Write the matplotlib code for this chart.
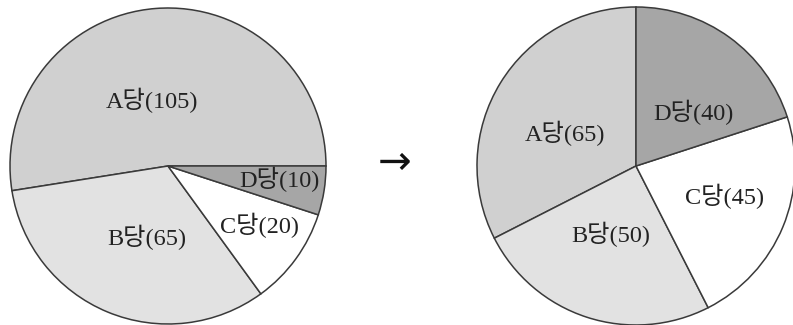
import matplotlib
matplotlib.use("Agg")
import matplotlib.pyplot as plt
import numpy as np

parties = ["A당", "B당", "C당", "D당"]
before = [105, 65, 20, 10]
after = [65, 50, 45, 40]
colors = ["#d0d0d0", "#e2e2e2", "#ffffff", "#a6a6a6"]

W, H = 793, 325
fig = plt.figure(figsize=(W / 100, H / 100), dpi=100)
fig.patch.set_facecolor("white")

fam = ["Liberation Serif", "Noto Sans CJK KR", "DejaVu Sans"]


def pie_axes(cx, cy, r):
    # cx, cy in pixels from top-left
    ax = fig.add_axes([(cx - r) / W, (H - cy - r) / H, 2 * r / W, 2 * r / H])
    return ax


def draw(ax, values, startangle, label_pos):
    wedges, _ = ax.pie(values, colors=colors, startangle=startangle,
                       counterclock=True, radius=1.0,
                       wedgeprops=dict(edgecolor="#3a3a3a", linewidth=1.1))
    ax.set_xlim(-1, 1)
    ax.set_ylim(-1, 1)
    ax.set_aspect("equal")
    ax.axis("off")
    for w in wedges:
        w.set_clip_on(False)
    for name, v, (ang, rr) in zip(parties, values, label_pos):
        a = np.deg2rad(ang)
        ax.text(rr * np.cos(a), rr * np.sin(a), f"{name}({v})",
                ha="center", va="center", fontsize=17.5, family=fam,
                color="#222222")


ax1 = pie_axes(168, 166, 158)
draw(ax1, before, 0, [(104, 0.43), (253.7, 0.47), (327, 0.69), (353, 0.71)])

ax2 = pie_axes(636, 166, 159)
draw(ax2, after, 90, [(155, 0.49), (250, 0.46), (341, 0.59), (43, 0.49)])

fig.text(395 / W, 1 - 163 / H, "→", ha="center", va="center",
         fontsize=29, family=["DejaVu Sans"], color="#111111")

fig.savefig("out.png", dpi=100, facecolor="white")
